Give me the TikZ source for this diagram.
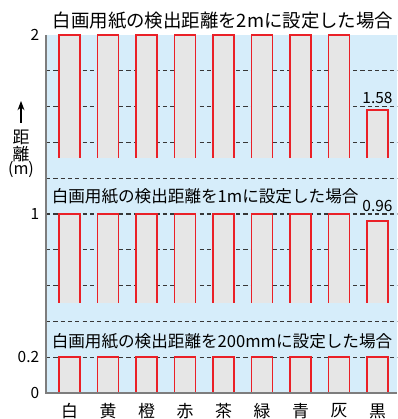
\documentclass[tikz,border=0pt]{standalone}
\usepackage{fontspec}
\setmainfont{Noto Sans CJK JP}
\usetikzlibrary{arrows.meta}
\definecolor{bgblue}{RGB}{214,237,250}
\definecolor{barfill}{RGB}{230,230,230}
\definecolor{barred}{RGB}{234,32,39}
\definecolor{axisgray}{RGB}{125,125,125}
\definecolor{gridgray}{RGB}{55,55,55}
\begin{document}
\begin{tikzpicture}[x=0.025cm, y=-0.025cm, line join=miter, >=Stealth,
	barline/.style={draw=barred, line width=1.1pt},
	gridline/.style={gridgray, line width=0.85pt, dash pattern=on 3pt off 2.2pt},
	title/.style={font=\fontsize{11.8}{14}\selectfont, anchor=west, inner sep=0pt},
	tick/.style={font=\fontsize{11}{13}\selectfont, anchor=east, inner sep=0pt},
	lab/.style={font=\fontsize{12}{14}\selectfont, inner sep=0pt}]
	\def\xa{46} \def\xb{397} % plot edges
	\def\Y#1{393-179*#1} % metres -> pixel row
	\def\bw{21} % bar width
	\useasboundingbox (0,0) rectangle (397,419);
	\fill[bgblue] (\xa,{\Y{2}}) rectangle (\xb,{\Y{0}});
	\foreach \v in {0.2,0.4,...,1.9}
		\draw[gridline] (\xa,{\Y{\v}}) -- (\xb,{\Y{\v}});
	% bars: top, middle and bottom group
	\foreach \n/\ta/\tb [count=\i from 0] in {白/2/1,黄/2/1,橙/2/1,赤/2/1,茶/2/1,緑/2/1,青/2/1,灰/2/1,黒/1.58/0.96}{
		\pgfmathsetmacro\l{59+38.5*\i}
		\fill[barfill] (\l,{\Y{\ta}}) rectangle (\l+\bw,{\Y{1.313}});
		\draw[barline] (\l,{\Y{1.313}}) -- (\l,{\Y{\ta}}) -- (\l+\bw,{\Y{\ta}}) -- (\l+\bw,{\Y{1.313}});
		\fill[barfill] (\l,{\Y{\tb}}) rectangle (\l+\bw,{\Y{0.503}});
		\draw[barline] (\l,{\Y{0.503}}) -- (\l,{\Y{\tb}}) -- (\l+\bw,{\Y{\tb}}) -- (\l+\bw,{\Y{0.503}});
		\fill[barfill] (\l,{\Y{0.2}}) rectangle (\l+\bw,{\Y{0}});
		\draw[barline] (\l,{\Y{0}}) -- (\l,{\Y{0.2}}) -- (\l+\bw,{\Y{0.2}}) -- (\l+\bw,{\Y{0}});
		\node[lab] (c\i) at (\l+\bw/2,411) {\n};
	}
	\draw[axisgray, line width=1.1pt] (\xa,{\Y{2}}) -- (\xa,{\Y{0}}) -- (\xb,{\Y{0}});
	% titles
	\node[title, font=\fontsize{13.1}{15}\selectfont, anchor=center] (t2) at (223,20.5) {白画用紙の検出距離を2mに設定した場合};
	\node[title] (t1) at (51.5,196.5) {白画用紙の検出距離を1mに設定した場合};
	\node[title] (t02) at (51.5,341.5) {白画用紙の検出距離を200mmに設定した場合};
	% values
	\node[tick, anchor=center] (v158) at (377.5,98) {1.58};
	\node[tick, anchor=center] (v096) at (377.5,206) {0.96};
	% y axis
	\node[tick] (y2) at (39.5,{\Y{2}}) {2};
	\node[tick] (y1) at (39.5,{\Y{1}}) {1};
	\node[tick] (y02) at (39.5,{\Y{0.2}}) {0.2};
	\node[tick] (y0) at (39.5,{\Y{0}}) {0};
	\coordinate (arrs) at (21,123);
	\coordinate (arre) at (21,101);
	\draw[->, line width=0.8pt] (arrs) -- (arre);
	\node[lab] (ya) at (21,137.5) {距};
	\node[lab] (yb) at (21,154) {離};
	\node[lab, font=\fontsize{11.5}{13}\selectfont] (yc) at (21,169.5) {(m)};
\end{tikzpicture}
\end{document}
